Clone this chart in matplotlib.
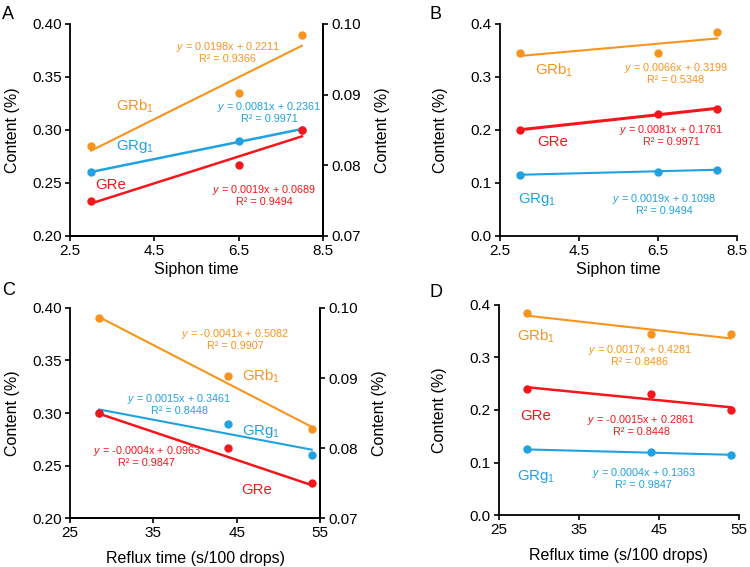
import numpy as np
import matplotlib
matplotlib.use('Agg')
import matplotlib.pyplot as plt

plt.rcParams['font.family'] = 'Liberation Sans'
plt.rcParams['mathtext.fontset'] = 'custom'
plt.rcParams['mathtext.rm'] = 'Liberation Sans'
plt.rcParams['mathtext.it'] = 'Liberation Sans:italic'

ORANGE = '#F7941D'
BLUE = '#1FA2E1'
RED = '#F5161B'

# siphon time (panels A, B)
siphon_x = [3, 6.5, 8]
a_grb1 = [0.285, 0.335, 0.39]
a_grg1 = [0.26, 0.29, 0.30]
a_gre = [0.0750, 0.0800, 0.0850]      # right axis
b_grb1 = [0.345, 0.345, 0.385]
b_gre = [0.20, 0.23, 0.24]
b_grg1 = [0.115, 0.12, 0.125]

# reflux time (panels C, D)
reflux_x = [28.5, 44, 54]
c_grb1 = [0.39, 0.335, 0.285]
c_grg1 = [0.30, 0.29, 0.26]
c_gre = [0.0850, 0.0800, 0.0750]      # right axis
d_grb1 = [0.385, 0.345, 0.345]
d_gre = [0.24, 0.23, 0.20]
d_grg1 = [0.125, 0.12, 0.115]

# trendline coefficients (slope, intercept) and the printed equations
fits = {
    'A': {'GRb1': (0.0198, 0.2211), 'GRg1': (0.0081, 0.2361), 'GRe': (0.0019, 0.0689)},
    'B': {'GRb1': (0.0066, 0.3199), 'GRe': (0.0081, 0.1761), 'GRg1': (0.0019, 0.1098)},
    'C': {'GRb1': (-0.0041, 0.5082), 'GRg1': (-0.0015, 0.3461), 'GRe': (-0.0004, 0.0963)},
    'D': {'GRb1': (-0.0017, 0.4281), 'GRe': (-0.0015, 0.2861), 'GRg1': (-0.0004, 0.1363)},
}
eq_text = {
    'A': {'GRb1': ('0.0198x + 0.2211', '0.9366'), 'GRg1': ('0.0081x + 0.2361', '0.9971'),
          'GRe': ('0.0019x + 0.0689', '0.9494')},
    'B': {'GRb1': ('0.0066x + 0.3199', '0.5348'), 'GRe': ('0.0081x + 0.1761', '0.9971'),
          'GRg1': ('0.0019x + 0.1098', '0.9494')},
    'C': {'GRb1': ('-0.0041x + 0.5082', '0.9907'), 'GRg1': ('0.0015x + 0.3461', '0.8448'),
          'GRe': ('-0.0004x + 0.0963', '0.9847')},
    'D': {'GRb1': ('0.0017x + 0.4281', '0.8486'), 'GRe': ('-0.0015x + 0.2861', '0.8448'),
          'GRg1': ('0.0004x + 0.1363', '0.9847')},
}

names = {'GRb1': 'GRb$_1$', 'GRg1': 'GRg$_1$', 'GRe': 'GRe'}
colors = {'GRb1': ORANGE, 'GRg1': BLUE, 'GRe': RED}

TICK_FS = 11
LAB_FS = 11.5

fig = plt.figure(figsize=(7.5, 5.67), dpi=100)


def style(ax, right=False):
    ax.spines['top'].set_visible(False)
    if not right:
        ax.spines['right'].set_visible(False)
    for s in ax.spines.values():
        s.set_linewidth(1.3)
    ax.tick_params(direction='out', length=3.5, width=1.2, labelsize=TICK_FS, pad=2.5)


def series(ax, x, y, key, panel, lw=1.5):
    c = colors[key]
    ax.plot(x, y, 'o', color=c, markersize=5, zorder=3)
    m, b = fits[panel][key]
    xx = np.array([x[0], x[-1]])
    ax.plot(xx, m * xx + b, color=c, lw=lw, zorder=2)


def label(ax, x, y, key, ha='left'):
    ax.text(x, y, names[key], color=colors[key], fontsize=10.8, ha=ha, va='center')


def eq(ax, x, y, panel, key):
    e, r = eq_text[panel][key]
    ax.text(x, y, '$\\it{y}$ = ' + e + '\nR² = ' + r, color=colors[key],
            fontsize=7.8, ha='center', va='center', linespacing=1.0)


# ---- A ----
axA = fig.add_axes([0.0933, 0.5838, 0.3374, 0.3739])
style(axA, right=True)
axA.set_xlim(2.5, 8.5)
axA.set_ylim(0.20, 0.40)
axA.set_xticks([2.5, 4.5, 6.5, 8.5])
axA.set_yticks([0.20, 0.25, 0.30, 0.35, 0.40])
axA.yaxis.set_major_formatter('{x:.2f}')
axA.set_xlabel('Siphon time', fontsize=LAB_FS, labelpad=3)
axA.set_ylabel('Content (%)', fontsize=LAB_FS, labelpad=9)
series(axA, siphon_x, a_grb1, 'GRb1', 'A')
series(axA, siphon_x, a_grg1, 'GRg1', 'A', lw=1.8)
axA2 = axA.twinx()
style(axA2, right=True)
axA2.spines['left'].set_visible(False)
axA2.set_ylim(0.07, 0.10)
axA2.set_yticks([0.07, 0.08, 0.09, 0.10])
axA2.yaxis.set_major_formatter('{x:.2f}')
axA2.set_ylabel('Content (%)', fontsize=LAB_FS, labelpad=10)
series(axA2, siphon_x, a_gre, 'GRe', 'A', lw=1.8)
label(axA, 3.6, 0.322, 'GRb1')
label(axA, 3.6, 0.284, 'GRg1')
label(axA, 3.1, 0.248, 'GRe')
eq(axA, 6.24, 0.374, 'A', 'GRb1')
eq(axA, 7.22, 0.3165, 'A', 'GRg1')
eq(axA, 7.1, 0.2387, 'A', 'GRe')

# ---- B ----
axB = fig.add_axes([0.6667, 0.5838, 0.316, 0.3739])
style(axB)
axB.set_xlim(2.5, 8.5)
axB.set_ylim(0.0, 0.4)
axB.set_xticks([2.5, 4.5, 6.5, 8.5])
axB.set_yticks([0.0, 0.1, 0.2, 0.3, 0.4])
axB.yaxis.set_major_formatter('{x:.1f}')
axB.set_xlabel('Siphon time', fontsize=LAB_FS, labelpad=3)
axB.set_ylabel('Content (%)', fontsize=LAB_FS, labelpad=16)
series(axB, siphon_x, b_grb1, 'GRb1', 'B')
series(axB, siphon_x, b_gre, 'GRe', 'B', lw=2.2)
series(axB, siphon_x, b_grg1, 'GRg1', 'B')
label(axB, 3.39, 0.313, 'GRb1')
label(axB, 3.45, 0.178, 'GRe')
label(axB, 2.95, 0.068, 'GRg1')
eq(axB, 6.95, 0.307, 'B', 'GRb1')
eq(axB, 6.83, 0.191, 'B', 'GRe')
eq(axB, 6.65, 0.061, 'B', 'GRg1')

# ---- C ----
axC = fig.add_axes([0.0933, 0.0864, 0.3334, 0.3704])
style(axC, right=True)
axC.set_xlim(25, 55)
axC.set_ylim(0.20, 0.40)
axC.set_xticks([25, 35, 45, 55])
axC.set_yticks([0.20, 0.25, 0.30, 0.35, 0.40])
axC.yaxis.set_major_formatter('{x:.2f}')
axC.set_xlabel('Reflux time (s/100 drops)', fontsize=LAB_FS, labelpad=8)
axC.set_ylabel('Content (%)', fontsize=LAB_FS, labelpad=9)
series(axC, reflux_x, c_grb1, 'GRb1', 'C')
series(axC, reflux_x, c_grg1, 'GRg1', 'C')
axC2 = axC.twinx()
style(axC2, right=True)
axC2.spines['left'].set_visible(False)
axC2.set_ylim(0.07, 0.10)
axC2.set_yticks([0.07, 0.08, 0.09, 0.10])
axC2.yaxis.set_major_formatter('{x:.2f}')
axC2.set_ylabel('Content (%)', fontsize=LAB_FS, labelpad=10)
series(axC2, reflux_x, c_gre, 'GRe', 'C', lw=1.8)
label(axC, 45.6, 0.3347, 'GRb1')
label(axC, 45.6, 0.2828, 'GRg1')
label(axC, 45.6, 0.227, 'GRe')
eq(axC, 44.8, 0.370, 'C', 'GRb1')
eq(axC, 38.1, 0.309, 'C', 'GRg1')
eq(axC, 34.2, 0.259, 'C', 'GRe')

# ---- D ----
axD = fig.add_axes([0.6653, 0.0917, 0.32, 0.3704])
style(axD)
axD.set_xlim(25, 55)
axD.set_ylim(0.0, 0.4)
axD.set_xticks([25, 35, 45, 55])
axD.set_yticks([0.0, 0.1, 0.2, 0.3, 0.4])
axD.yaxis.set_major_formatter('{x:.1f}')
axD.set_xlabel('Reflux time (s/100 drops)', fontsize=LAB_FS, labelpad=8)
axD.set_ylabel('Content (%)', fontsize=LAB_FS, labelpad=16)
series(axD, reflux_x, d_grb1, 'GRb1', 'D')
series(axD, reflux_x, d_gre, 'GRe', 'D', lw=1.8)
series(axD, reflux_x, d_grg1, 'GRg1', 'D')
label(axD, 27.2, 0.340, 'GRb1')
label(axD, 27.6, 0.189, 'GRe')
label(axD, 27.2, 0.073, 'GRg1')
eq(axD, 42.6, 0.305, 'D', 'GRb1')
eq(axD, 42.8, 0.171, 'D', 'GRe')
eq(axD, 43.1, 0.0698, 'D', 'GRg1')

# panel letters
for txt, x, y in [('A', 0.003, 0.99), ('B', 0.573, 0.99), ('C', 0.003, 0.503), ('D', 0.573, 0.499)]:
    fig.text(x, y, txt, fontsize=13, ha='left', va='top')

fig.savefig('out.png', dpi=100)
